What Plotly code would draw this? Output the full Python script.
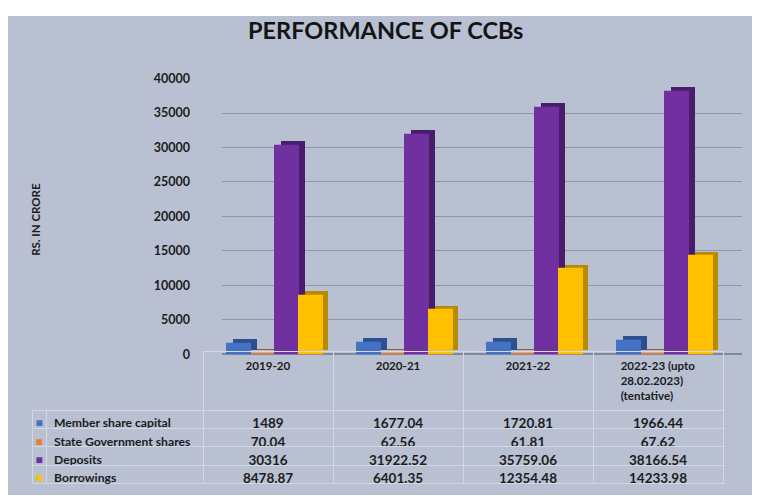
import plotly.graph_objects as go

# la page HTML décale le graphique : correction mesurée sur les rendus précédents
OFF_X = 8
OFF_Y, SCALE_Y = 14, 0.975
W, H = 752, 494

years = ["2019-20", "2020-21", "2021-22", "2022-23 (upto<br>28.02.2023)<br>(tentative)"]
series = ["Member share capital", "State Government shares", "Deposits", "Borrowings"]
member_share = [1489, 1677.04, 1720.81, 1966.44]
state_govt = [70.04, 62.56, 61.81, 67.62]
deposits = [30316, 31922.52, 35759.06, 38166.54]
borrowings = [8478.87, 6401.35, 12354.48, 14233.98]
value_text = [
    ["1489", "1677.04", "1720.81", "1966.44"],
    ["70.04", "62.56", "61.81", "67.62"],
    ["30316", "31922.52", "35759.06", "38166.54"],
    ["8478.87", "6401.35", "12354.48", "14233.98"],
]

front = ["#4472c4", "#ed7d31", "#7030a0", "#ffc000"]
side = ["#2c4f8e", "#a4541c", "#4a1d6c", "#b88a00"]
offsets = [-0.461, -0.276, -0.092, 0.089]
BAR_W = 0.18
DEPTH_X = 0.048   # fausse profondeur 3D, en unités de catégorie
DEPTH_Y = 700     # fausse profondeur 3D, en unités de y

BG = "#b8c0d2"
GRID = "#8e96a7"
TXT = "#1c1c1c"
LINE = "#d3d9e4"
FONT = "Lato"


def px_x(p):
    return (p - OFF_X) / W


def px_y(p):
    return 1 - ((p - OFF_Y) / SCALE_Y) / H


fig = go.Figure()

values = [member_share, state_govt, deposits, borrowings]
x_cat = [y.replace("<br>", " ") for y in years]
for name, vals, c_front, c_side, off in zip(series, values, front, side, offsets):
    # face arrière décalée -> effet de profondeur
    fig.add_trace(go.Bar(
        x=x_cat, y=vals, base=DEPTH_Y, offset=off + DEPTH_X, width=BAR_W,
        marker=dict(color=c_side, line=dict(width=0)), hoverinfo="skip",
        showlegend=False,
    ))
    fig.add_trace(go.Bar(
        x=x_cat, y=vals, offset=off, width=BAR_W, name=name,
        marker=dict(color=c_front, line=dict(width=2, color=c_front)),
        showlegend=False,
    ))

cols = [["■"] * 4, series] + [[value_text[r][c] for r in range(4)] for c in range(4)]

fig.add_trace(go.Table(
    domain=dict(x=[px_x(32), px_x(723)], y=[0, px_y(351)]),
    columnwidth=[14, 157, 130, 130, 130, 130],
    header=dict(
        values=["", ""] + [f"<b>{y}</b>" for y in years],
        height=57, align="center",
        fill_color="rgba(0,0,0,0)",
        line=dict(color=["rgba(0,0,0,0)"] * 2 + [LINE] * 4, width=1),
        font=dict(family=FONT, size=11.6, color=TXT),
    ),
    cells=dict(
        values=cols, height=18.3,
        align=["center", "left", "center", "center", "center", "center"],
        fill_color="rgba(0,0,0,0)",
        line=dict(color=LINE, width=1),
        font=dict(family=FONT, size=[12, 12.2, 13.5, 13.5, 13.5, 13.5],
                  color=[front, TXT, TXT, TXT, TXT, TXT], weight="bold"),
    ),
))

fig.update_layout(
    width=W, height=H,
    margin=dict(l=0, r=0, t=0, b=0),
    paper_bgcolor="white", plot_bgcolor="rgba(0,0,0,0)",
    barmode="overlay", bargap=0,
    showlegend=False,
    font=dict(family=FONT, color=TXT),
    xaxis=dict(
        domain=[px_x(222), px_x(742)], showticklabels=False, showgrid=False,
        zeroline=False, showline=False, fixedrange=True,
    ),
    yaxis=dict(
        domain=[px_y(354), px_y(77)], range=[0, 40000], dtick=5000,
        tickformat="d",
        showgrid=True, gridcolor=GRID, gridwidth=1,
        zeroline=True, zerolinecolor="#7f8898", zerolinewidth=1.5,
        tickfont=dict(family=FONT, size=12.5, color=TXT, weight="bold"),
        ticklabelstandoff=31, showline=False,
    ),
    shapes=[dict(
        type="rect", xref="paper", yref="paper", layer="below",
        x0=0, x1=px_x(753), y0=0, y1=1,
        fillcolor=BG, line=dict(width=0),
    )],
    annotations=[
        dict(
            text="<b>PERFORMANCE OF CCBs</b>", xref="paper", yref="paper",
            x=px_x(385), y=px_y(28), showarrow=False,
            xanchor="center", yanchor="middle",
            font=dict(family=FONT, size=23.5, color="#141414"),
        ),
        dict(
            text="<b>RS. IN CRORE</b>", xref="paper", yref="paper",
            x=px_x(36), y=px_y(219), showarrow=False, textangle=-90,
            xanchor="center", yanchor="middle",
            font=dict(family=FONT, size=11.5, color=TXT),
        ),
    ],
)

fig.write_html("out.html")
